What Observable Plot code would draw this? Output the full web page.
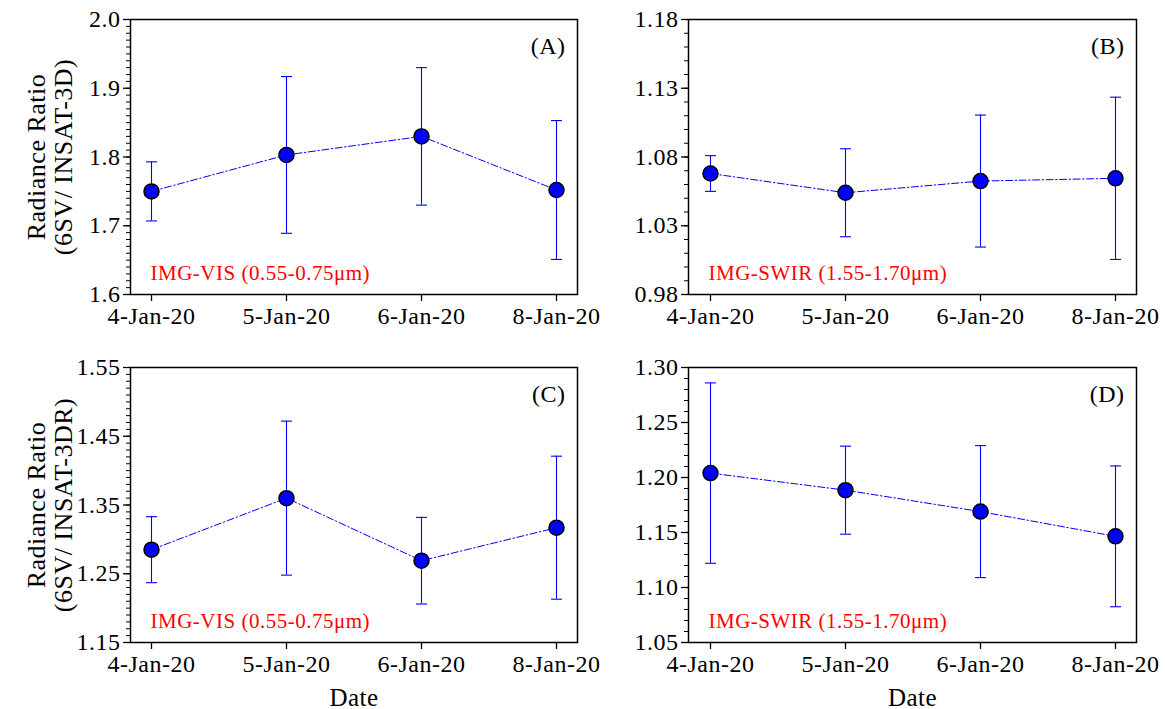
<!DOCTYPE html>
<html><head><meta charset="utf-8">
<script src="https://cdn.jsdelivr.net/npm/d3@7"></script>
<script src="https://cdn.jsdelivr.net/npm/@observablehq/plot@0.6"></script>
<style>
html,body{margin:0;padding:0;background:#fff;}
#fig{position:relative;width:1165px;height:709px;overflow:hidden;background:#fff;}
#fig > svg{position:absolute;overflow:visible;}
</style></head><body><div id="fig"></div>
<script>
// ---- data ----
const dates = ["4-Jan-20", "5-Jan-20", "6-Jan-20", "8-Jan-20"];

const meanA = [1.750, 1.803, 1.830, 1.752];
const errA  = [0.043, 0.114, 0.100, 0.101];

const meanB = [1.068, 1.054, 1.0625, 1.0645];
const errB  = [0.013, 0.032, 0.048, 0.059];

const meanC = [1.285, 1.360, 1.269, 1.317];
const errC  = [0.048, 0.112, 0.063, 0.104];

const meanD = [1.204, 1.1885, 1.169, 1.1465];
const errD  = [0.082, 0.040, 0.060, 0.064];

const ticksA = [1.6, 1.7, 1.8, 1.9, 2.0];
const ticksB = [0.98, 1.03, 1.08, 1.13, 1.18];
const ticksC = [1.15, 1.25, 1.35, 1.45, 1.55];
const ticksD = [1.05, 1.10, 1.15, 1.20, 1.25, 1.30];

const tags = ["(A)", "(B)", "(C)", "(D)"];
const bandVIS = "IMG-VIS (0.55-0.75\u03bcm)";
const bandSWIR = "IMG-SWIR (1.55-1.70\u03bcm)";
const yLabelTop = "Radiance Ratio\n(6SV/ INSAT-3D)";
const yLabelBottom = "Radiance Ratio\n(6SV/ INSAT-3DR)";
const xLabel = "Date";

// ---- drawing ----
const FONT = "'Liberation Serif', 'Times New Roman', serif";
const BLUE = "#0000ff";
const capSymbol = {
  draw(ctx, size) {
    const r = Math.sqrt(size / Math.PI);
    ctx.moveTo(-r, 0);
    ctx.lineTo(r, 0);
  }
};

function panel(cfg) {
  const rows = dates.map((d, i) => ({date: d, mean: cfg.mean[i], err: cfg.err[i]}));
  const [lo, hi] = [cfg.majors[0], cfg.majors[cfg.majors.length - 1]];
  const minors = d3.range(Math.round((hi - lo) / 0.01) + 1).map(k => lo + k * 0.01);
  const marks = [
    Plot.axisX({tickSize: 7, tickPadding: 5, label: null, strokeWidth: 1.3, fill: "black", stroke: "black"}),
    Plot.axisY({ticks: cfg.majors, tickSize: 7, tickPadding: 3, tickFormat: d3.format(cfg.fmt), label: null, strokeWidth: 1.3, fill: "black", stroke: "black"}),
    Plot.axisY(minors, {tickSize: 4, fill: "none", label: null, strokeWidth: 1, stroke: "black"}),
    Plot.ruleX(rows, {x: "date", y1: d => d.mean - d.err, y2: d => d.mean + d.err, stroke: BLUE, strokeWidth: 1.1}),
    Plot.dot(rows, {x: "date", y: d => d.mean + d.err, symbol: capSymbol, r: 5.5, fill: "none", stroke: BLUE, strokeWidth: 1.1}),
    Plot.dot(rows, {x: "date", y: d => d.mean - d.err, symbol: capSymbol, r: 5.5, fill: "none", stroke: BLUE, strokeWidth: 1.1}),
    Plot.line(rows, {x: "date", y: "mean", stroke: BLUE, strokeWidth: 1, strokeDasharray: "7,2.5,1.5,2.5"}),
    Plot.dot(rows, {x: "date", y: "mean", r: 7.5, fill: BLUE, stroke: "black", strokeWidth: 1.5}),
    Plot.text([cfg.tag], {text: d => d, frameAnchor: "top-right", dx: -12, dy: 27, lineAnchor: "middle", textAnchor: "end", fontSize: 24}),
    Plot.text([cfg.band], {text: d => d, frameAnchor: "bottom-left", dx: 20, dy: -21, lineAnchor: "middle", textAnchor: "start", fill: "red", fontSize: 21}),
    Plot.frame({stroke: "black", strokeWidth: 1.5})
  ];
  if (cfg.yLabel) marks.push(Plot.text([cfg.yLabel], {text: d => d, frameAnchor: "left", dx: -81, rotate: -90, lineAnchor: "middle", textAnchor: "middle", lineHeight: 1.07, fontSize: 26}));
  if (cfg.xLabel) marks.push(Plot.text([cfg.xLabel], {text: d => d, frameAnchor: "bottom", dy: 55, lineAnchor: "middle", textAnchor: "middle", fontSize: 25}));
  const svg = Plot.plot({
    width: cfg.width, height: cfg.height,
    marginLeft: cfg.ml, marginRight: cfg.mr, marginTop: cfg.mt, marginBottom: cfg.mb,
    x: {type: "point", domain: dates, padding: 0.15, axis: null},
    y: {domain: [lo, hi], axis: null},
    style: {fontFamily: FONT, fontSize: "24px", color: "black", background: "transparent", letterSpacing: "0.5px"},
    marks
  });
  svg.style.left = cfg.left + "px";
  svg.style.top = cfg.top + "px";
  document.getElementById("fig").appendChild(svg);
}

panel({mean: meanA, err: errA, majors: ticksA, fmt: ".1f", tag: tags[0], band: bandVIS, yLabel: yLabelTop,
  left: 0, top: 0, width: 582, height: 330, ml: 130, mr: 5, mt: 19, mb: 36});
panel({mean: meanB, err: errB, majors: ticksB, fmt: ".2f", tag: tags[1], band: bandSWIR,
  left: 582, top: 0, width: 583, height: 330, ml: 106, mr: 29, mt: 19, mb: 36});
panel({mean: meanC, err: errC, majors: ticksC, fmt: ".2f", tag: tags[2], band: bandVIS, yLabel: yLabelBottom, xLabel,
  left: 0, top: 330, width: 582, height: 379, ml: 130, mr: 5, mt: 37, mb: 67});
panel({mean: meanD, err: errD, majors: ticksD, fmt: ".2f", tag: tags[3], band: bandSWIR, xLabel,
  left: 582, top: 330, width: 583, height: 379, ml: 106, mr: 29, mt: 37, mb: 67});
</script>
</body></html>
